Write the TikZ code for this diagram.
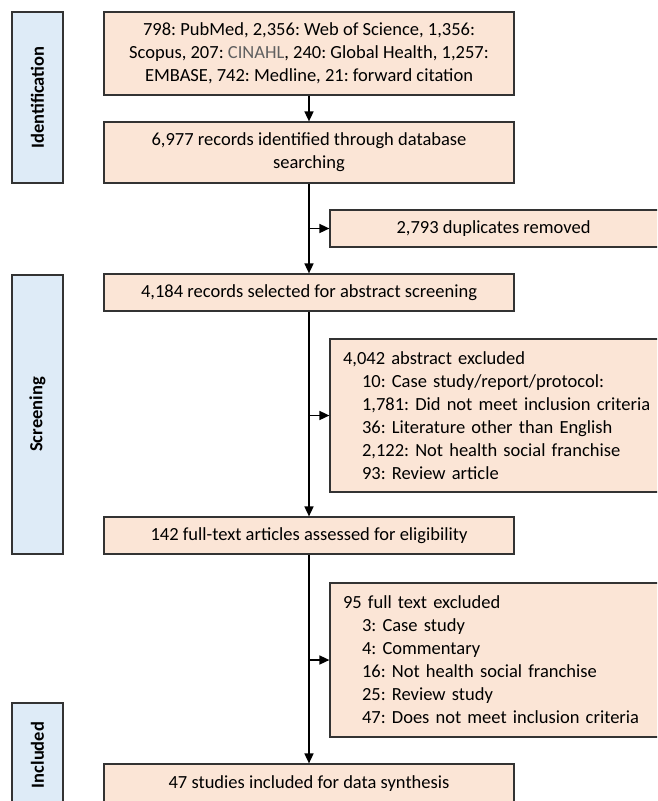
\documentclass[tikz,border=0pt]{standalone}
\usepackage{fontspec}
\setmainfont{Carlito}
\usetikzlibrary{arrows.meta}
\definecolor{peach}{HTML}{FBE5D6}
\definecolor{paleblue}{HTML}{DEEBF7}
\definecolor{edge}{HTML}{333333}
\definecolor{linktext}{HTML}{606060}
\frenchspacing
\begin{document}
\begin{tikzpicture}
    [
        x=1pt, y=-1pt,
        stage/.style={rectangle, draw=edge, fill=paleblue, line width=1.2pt, inner sep=0pt, rotate=90, minimum height=51pt, font=\fontsize{18.5}{20}\selectfont\bfseries},
        record/.style={rectangle, draw=edge, fill=peach, line width=1.2pt, inner sep=0pt, minimum width=410pt, minimum height=37pt, align=center, font=\fontsize{18.5}{23}\selectfont},
        reason/.style={record, minimum width=356pt, text width=330pt, align=left},
        flow/.style={-{Triangle[length=10pt, width=9pt]}, line width=1.6pt},
    ]
    \clip (0,0) rectangle (657,801);
    % phases
    \node (ident) at (37.5,97.5) [stage, minimum width=171pt] {Identification};
    \node (screen) at (37.5,414.5) [stage, minimum width=279pt] {Screening};
    \node (incl) at (37.5,755) [stage, minimum width=104pt] {Included};
    % main flow
    \node (sources) at (309,53.5) [record, minimum height=83pt] {798: PubMed, 2,356: Web of Science, 1,356:\\ Scopus, 207: {\color{linktext}CINAHL}, 240: Global Health, 1,257:\\ EMBASE, 742: Medline, 21: forward citation};
    \node (found) at (309,152.5) [record, minimum height=61pt] {6,977 records identified through database\\ searching};
    \node (abstracts) at (309,292.5) [record] {4,184 records selected for abstract screening};
    \node (fulltext) at (309,535.5) [record] {142 full-text articles assessed for eligibility};
    \node (final) at (309,784) [record, minimum height=40pt] {47 studies included for data synthesis};
    % side boxes
    \node (dups) at (496,228.5) [record, minimum width=332pt] {\hspace*{-5pt}2,793 duplicates removed};
    \node (absout) at (508,415.5) [reason, minimum height=153pt] {4,042 abstract excluded\\
        \hspace*{19pt}10: Case study/report/protocol:\\
        \hspace*{19pt}1,781: Did not meet inclusion criteria\\
        \hspace*{19pt}36: Literature other than English\\
        \hspace*{19pt}2,122: Not health social franchise\\
        \hspace*{19pt}93: Review article};
    \node (ftout) at (508,660) [reason, minimum height=154pt] {95 full text excluded\\
        \hspace*{19pt}3: Case study\\
        \hspace*{19pt}4: Commentary\\
        \hspace*{19pt}16: Not health social franchise\\
        \hspace*{19pt}25: Review study\\
        \hspace*{19pt}47: Does not meet inclusion criteria};
    \draw [flow] (sources) -- (found);
    \draw [flow] (found) -- (abstracts);
    \draw [flow] (abstracts) -- (fulltext);
    \draw [flow] (fulltext) -- (final);
    \draw [flow] (found.south |- dups.west) -- (dups.west);
    \draw [flow] (abstracts.south |- absout.west) -- (absout.west);
    \draw [flow] (fulltext.south |- ftout.west) -- (ftout.west);
\end{tikzpicture}
\end{document}
